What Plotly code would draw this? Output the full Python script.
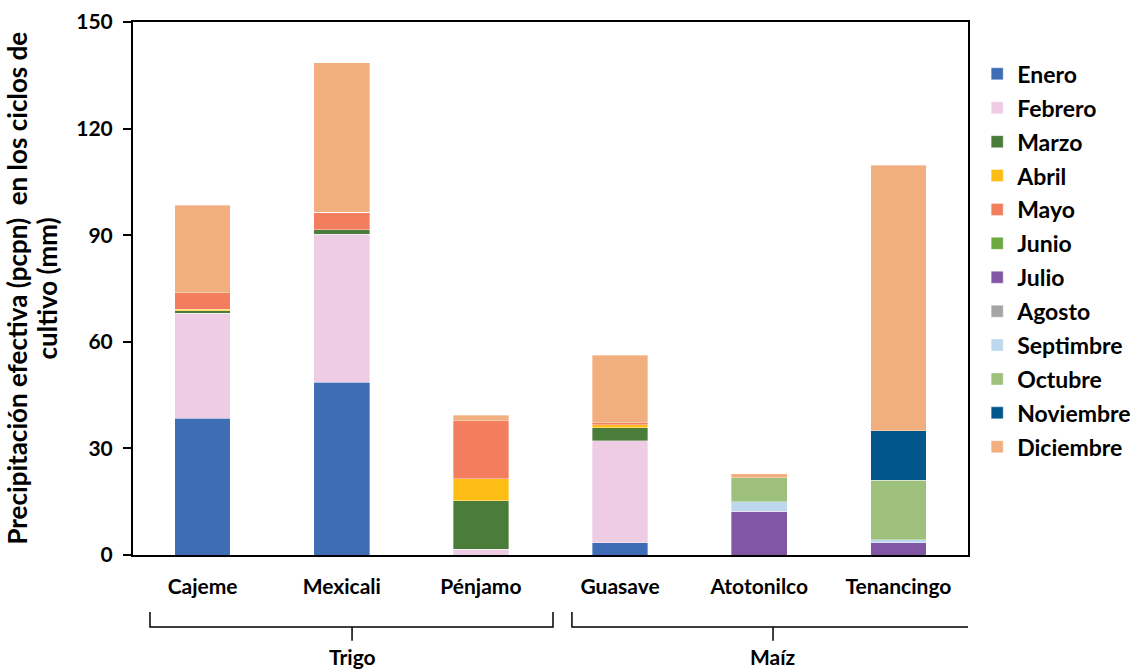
import plotly.graph_objects as go

locations = ["Cajeme", "Mexicali", "Pénjamo", "Guasave", "Atotonilco", "Tenancingo"]
months = ["Enero", "Febrero", "Marzo", "Abril", "Mayo", "Junio", "Julio",
          "Agosto", "Septimbre", "Octubre", "Noviembre", "Diciembre"]

enero = [38.5, 48.6, 0, 3.4, 0, 0]
febrero = [29.5, 41.7, 1.6, 28.8, 0, 0]
marzo = [0.8, 1.3, 13.7, 3.6, 0, 0]
abril = [0.4, 0, 6.1, 0.8, 0, 0]
mayo = [4.6, 4.9, 16.4, 0.6, 0, 0]
junio = [0, 0, 0, 0, 0, 0]
julio = [0, 0, 0, 0, 12.3, 3.4]
agosto = [0, 0, 0, 0, 0, 0]
septiembre = [0, 0, 0, 0, 2.7, 0.9]
octubre = [0, 0, 0, 0, 6.8, 16.8]
noviembre = [0, 0, 0, 0, 0, 13.8]
diciembre = [24.6, 42.0, 1.6, 19.0, 1.0, 74.8]

series = [enero, febrero, marzo, abril, mayo, junio, julio, agosto,
          septiembre, octubre, noviembre, diciembre]
colors = ["#3F6DB5", "#EECCE3", "#4A7C3A", "#FDBD14", "#F37E5F", "#6AAA40",
          "#8157A5", "#A5A5A5", "#BDD7EE", "#9DC17D", "#01578C", "#F1AE7E"]

y_ticks = [0, 30, 60, 90, 120, 150]
groups = ["Trigo", "Maíz"]
y_title_lines = ["Precipitación efectiva (pcpn)  en los ciclos de", "cultivo (mm)"]

FONT = "Lato"

fig = go.Figure()
for i, (name, vals, col) in enumerate(zip(months, series, colors)):
    fig.add_trace(go.Bar(
        x=locations, y=vals, name=name, marker_color=col,
        marker_line=dict(width=0.6, color="rgba(255,255,255,0.6)"),
        legendgroup=name, width=0.4,
    ))

fig.update_layout(
    barmode="stack",
    width=1133, height=669,
    margin=dict(l=133, r=165, t=22, b=114, autoexpand=False),
    plot_bgcolor="white", paper_bgcolor="white",
    font=dict(family=FONT, size=20, color="black"),
    showlegend=True,
    legend=dict(
        x=1.011, y=0.943, xanchor="left", yanchor="top",
        traceorder="grouped", tracegroupgap=1,
        font=dict(family=FONT, size=23, color="black", weight="bold"),
        itemwidth=30,
    ),
)

fig.update_xaxes(
    showline=True, linecolor="black", linewidth=2, mirror=True,
    ticks="", tickfont=dict(family=FONT, size=21, weight="bold"),
    ticklabelstandoff=12, range=[-0.5, 5.5],
)
fig.update_yaxes(
    range=[0, 150], tickvals=y_ticks,
    showline=True, linecolor="black", linewidth=2, mirror=True,
    ticks="outside", ticklen=8, tickwidth=2, tickcolor="black",
    showgrid=False, zeroline=False,
    tickfont=dict(family=FONT, size=21, weight="bold"),
    ticklabelstandoff=6,
)

# y-axis title as two rotated lines
for xp, line in zip([-0.1400, -0.1030], y_title_lines):
    fig.add_annotation(x=xp, y=0.5, xref="paper", yref="paper", text=f"<b>{line}</b>",
                       textangle=-90, showarrow=False, xanchor="center", yanchor="middle",
                       font=dict(family=FONT, size=26, color="black"))

# group braces (x in category units, y in paper units)
braces = [(-0.378, 2.518, 1.074, groups[0]), (2.654, 5.55, 4.099, groups[1])]
y_top, y_mid, y_bot, y_lab = -0.107, -0.135, -0.161, -0.191
for x0, x1, xc, label in braces:
    path = f"M {x0},{y_top} L {x0},{y_mid} L {x1},{y_mid} L {x1},{y_top}"
    fig.add_shape(type="path", xref="x", yref="paper", path=path,
                  line=dict(color="black", width=1.5))
    fig.add_shape(type="line", xref="x", yref="paper", x0=xc, x1=xc,
                  y0=y_mid, y1=y_bot, line=dict(color="black", width=1.5))
    fig.add_annotation(x=xc, y=y_lab, xref="x", yref="paper", text=f"<b>{label}</b>",
                       showarrow=False, yanchor="middle",
                       font=dict(family=FONT, size=21, color="black"))

fig.write_html("out.html")
